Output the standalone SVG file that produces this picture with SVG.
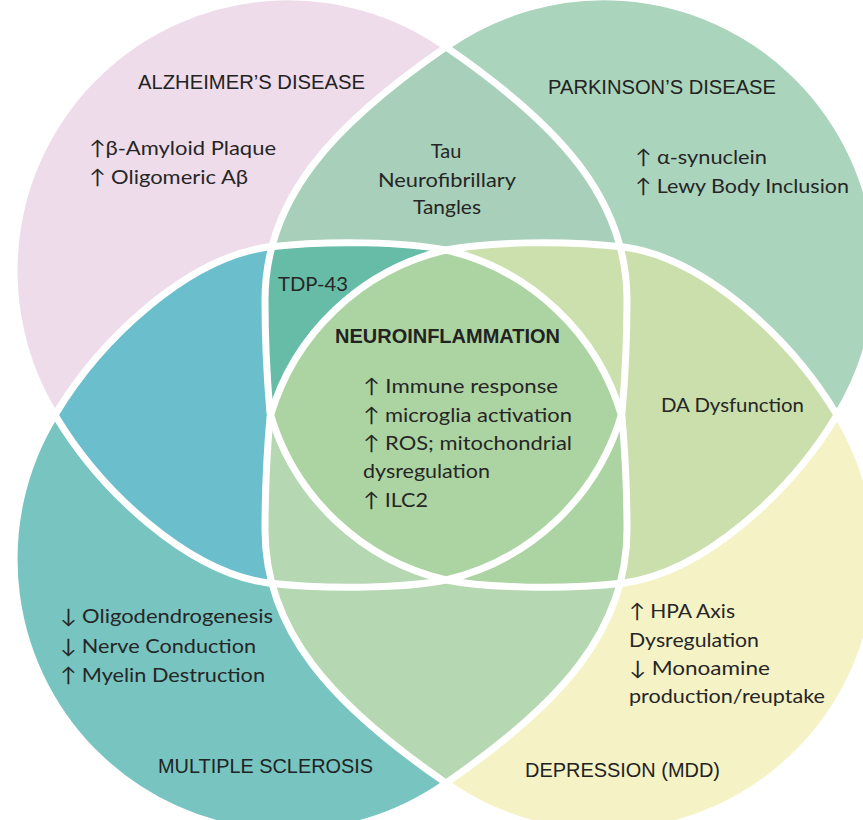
<svg xmlns="http://www.w3.org/2000/svg" xmlns:xlink="http://www.w3.org/1999/xlink" width="863" height="820" viewBox="0 0 863 820">
<style>
.title{font-family:"Liberation Sans",Arial,sans-serif;font-size:20px;fill:#222;}
.bold{font-weight:bold;}
.body{font-family:Lato,"Open Sans","DejaVu Sans",sans-serif;font-size:20px;fill:#262626;}
.mid{text-anchor:middle;}
.line{fill:none;stroke:#fff;stroke-width:7;stroke-linejoin:miter;}
</style>
<defs>
<path id="ad" d="M 55 415 A 274 274 0 0 1 446 47 C 561 126 627 200 627 300 C 627 350 624 390 622 413 A 240 240 0 0 1 446 580 C 405 588 330 590 268 583 C 188 572 101 492 55 415 Z"/>
<clipPath id="cAD"><use href="#ad"/></clipPath>
<clipPath id="cPD"><use href="#ad" transform="matrix(-1 0 0 1 892 0)"/></clipPath>
<clipPath id="cMS"><use href="#ad" transform="matrix(1 0 0 -1 0 830)"/></clipPath>
</defs>
<rect width="863" height="820" fill="#fff"/>
<g id="alzheimers"><use href="#ad" fill="#eedcea"/></g>
<g id="parkinsons"><use href="#ad" transform="matrix(-1 0 0 1 892 0)" fill="#abd4bd"/></g>
<g id="multiple-sclerosis"><use href="#ad" transform="matrix(1 0 0 -1 0 830)" fill="#77c4c1"/></g>
<g id="depression"><use href="#ad" transform="matrix(-1 0 0 -1 892 830)" fill="#f5f2c6"/></g>
<g id="overlap-ad-pd" clip-path="url(#cAD)"><use href="#ad" transform="matrix(-1 0 0 1 892 0)" fill="#a7cfb9"/></g>
<g id="overlap-ad-ms" clip-path="url(#cAD)"><use href="#ad" transform="matrix(1 0 0 -1 0 830)" fill="#6bbfcc"/></g>
<g id="overlap-pd-mdd" clip-path="url(#cPD)"><use href="#ad" transform="matrix(-1 0 0 -1 892 830)" fill="#cadfab"/></g>
<g id="overlap-ms-mdd" clip-path="url(#cMS)"><use href="#ad" transform="matrix(-1 0 0 -1 892 830)" fill="#b5d8b2"/></g>
<g id="overlap-ad-pd-ms" clip-path="url(#cAD)"><g clip-path="url(#cPD)"><use href="#ad" transform="matrix(1 0 0 -1 0 830)" fill="#66bca6"/></g></g>
<g id="overlap-ad-pd-mdd" clip-path="url(#cAD)"><g clip-path="url(#cPD)"><use href="#ad" transform="matrix(-1 0 0 -1 892 830)" fill="#cbe0ad"/></g></g>
<g id="overlap-ad-ms-mdd" clip-path="url(#cAD)"><g clip-path="url(#cMS)"><use href="#ad" transform="matrix(-1 0 0 -1 892 830)" fill="#b5d8b2"/></g></g>
<g id="overlap-pd-ms-mdd" clip-path="url(#cPD)"><g clip-path="url(#cMS)"><use href="#ad" transform="matrix(-1 0 0 -1 892 830)" fill="#acd4a2"/></g></g>
<g id="neuroinflammation" clip-path="url(#cAD)"><g clip-path="url(#cPD)"><g clip-path="url(#cMS)"><use href="#ad" transform="matrix(-1 0 0 -1 892 830)" fill="#acd4a2"/></g></g></g>
<g id="outlines">
<use href="#ad" class="line"/>
<use href="#ad" class="line" transform="matrix(-1 0 0 1 892 0)"/>
<use href="#ad" class="line" transform="matrix(1 0 0 -1 0 830)"/>
<use href="#ad" class="line" transform="matrix(-1 0 0 -1 892 830)"/>
</g>
<g id="labels">
<text class="title" x="138" y="89" textLength="227" lengthAdjust="spacingAndGlyphs">ALZHEIMER’S DISEASE</text>
<text class="title" x="548" y="94" textLength="228" lengthAdjust="spacingAndGlyphs">PARKINSON’S DISEASE</text>
<text class="title" x="158" y="773" textLength="215" lengthAdjust="spacingAndGlyphs">MULTIPLE SCLEROSIS</text>
<text class="title" x="525" y="777" textLength="195" lengthAdjust="spacingAndGlyphs">DEPRESSION (MDD)</text>
<text class="title bold" x="335" y="343" textLength="225" lengthAdjust="spacingAndGlyphs">NEUROINFLAMMATION</text>
<text class="body" x="89" y="155" textLength="187" lengthAdjust="spacingAndGlyphs">↑β-Amyloid Plaque</text>
<text class="body" x="89" y="184" textLength="159" lengthAdjust="spacingAndGlyphs">↑ Oligomeric Aβ</text>
<text class="body" x="635" y="164" textLength="132" lengthAdjust="spacingAndGlyphs">↑ α-synuclein</text>
<text class="body" x="635" y="193" textLength="214" lengthAdjust="spacingAndGlyphs">↑ Lewy Body Inclusion</text>
<text class="body mid" x="446" y="158">Tau</text>
<text class="body mid" x="447" y="187" textLength="138" lengthAdjust="spacingAndGlyphs">Neurofibrillary</text>
<text class="body mid" x="447" y="214" textLength="68" lengthAdjust="spacingAndGlyphs">Tangles</text>
<text class="body" x="278" y="291" textLength="70" lengthAdjust="spacingAndGlyphs">TDP-43</text>
<text class="body" x="363" y="393" textLength="195" lengthAdjust="spacingAndGlyphs">↑ Immune response</text>
<text class="body" x="363" y="422" textLength="209" lengthAdjust="spacingAndGlyphs">↑ microglia activation</text>
<text class="body" x="363" y="450" textLength="209" lengthAdjust="spacingAndGlyphs">↑ ROS; mitochondrial</text>
<text class="body" x="363" y="478" textLength="127" lengthAdjust="spacingAndGlyphs">dysregulation</text>
<text class="body" x="363" y="507" textLength="65" lengthAdjust="spacingAndGlyphs">↑ ILC2</text>
<text class="body" x="661" y="412" textLength="143" lengthAdjust="spacingAndGlyphs">DA Dysfunction</text>
<text class="body" x="629" y="618" textLength="106" lengthAdjust="spacingAndGlyphs">↑ HPA Axis</text>
<text class="body" x="629" y="647" textLength="130" lengthAdjust="spacingAndGlyphs">Dysregulation</text>
<text class="body" x="629" y="675" textLength="141" lengthAdjust="spacingAndGlyphs">↓ Monoamine</text>
<text class="body" x="629" y="703" textLength="196" lengthAdjust="spacingAndGlyphs">production/reuptake</text>
<text class="body" x="60" y="623" textLength="213" lengthAdjust="spacingAndGlyphs">↓ Oligodendrogenesis</text>
<text class="body" x="60" y="653" textLength="196" lengthAdjust="spacingAndGlyphs">↓ Nerve Conduction</text>
<text class="body" x="60" y="682" textLength="205" lengthAdjust="spacingAndGlyphs">↑ Myelin Destruction</text>
</g>
</svg>
